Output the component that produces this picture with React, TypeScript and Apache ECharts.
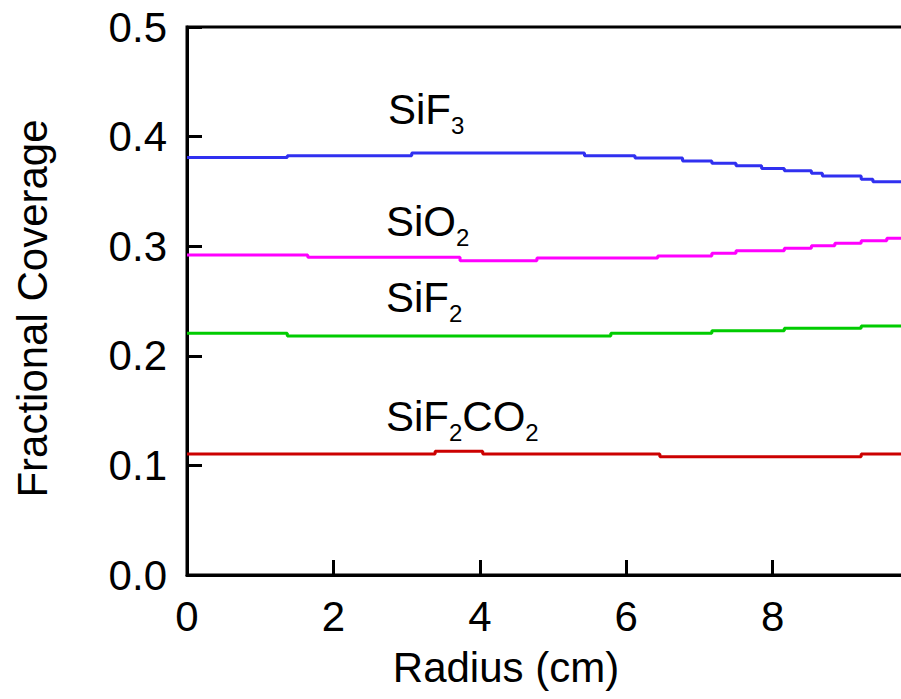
import React, { useEffect, useRef } from "react";
import * as echarts from "echarts";

// Radius (cm) at which each plotted level starts, and the coverage level
const sif3X = [0, 1.37, 3.07, 5.43, 6.12, 6.77, 7.17, 7.5, 7.85, 8.16, 8.53, 8.68, 9.21, 9.37, 9.76];
const sif3Y = [0.381, 0.3825, 0.385, 0.3825, 0.3805, 0.3777, 0.3756, 0.3734, 0.371, 0.3689, 0.3665, 0.364, 0.361, 0.3588, 0.3588];

const sio2X = [0, 1.65, 3.73, 4.78, 6.43, 7.17, 7.5, 8.16, 8.53, 8.85, 9.21, 9.56, 9.76];
const sio2Y = [0.292, 0.29, 0.2868, 0.2893, 0.2911, 0.2935, 0.2959, 0.2981, 0.3005, 0.3026, 0.305, 0.3072, 0.3072];

const sif2X = [0, 1.37, 5.79, 7.17, 8.16, 9.21, 9.76];
const sif2Y = [0.2205, 0.2181, 0.2205, 0.2229, 0.2251, 0.2272, 0.2272];

const sif2co2X = [0, 3.39, 4.04, 6.46, 9.21, 9.76];
const sif2co2Y = [0.1104, 0.1129, 0.1104, 0.1079, 0.1104, 0.1104];

const yTicks = [0, 0.1, 0.2, 0.3, 0.4, 0.5];
const xTickLabels = ["0", "2", "4", "6", "8"];

const FONT = "'Liberation Sans', Arial, Helvetica, sans-serif";
const FS = 42;

const zip = (xs: number[], ys: number[]) => xs.map((x, i) => [x, ys[i]]);

function label(main: string, parts: Array<[string, string]>, left: number, top: number) {
  const text = parts.map(([style, t]) => `{${style}|${t}}`).join("");
  return {
    type: "text",
    left,
    top,
    name: main,
    style: {
      text,
      rich: {
        m: { fontSize: FS, fontFamily: FONT, fill: "#000" },
        s: { fontSize: 24, padding: [32, 0, 0, 0], fontFamily: FONT, fill: "#000" },
      },
    },
  };
}

export default function App() {
  const ref = useRef<HTMLDivElement>(null);
  useEffect(() => {
    if (!ref.current) return;
    const chart = echarts.init(ref.current, undefined, { renderer: "svg" });
    const line = (name: string, xs: number[], ys: number[], color: string) => ({
      name,
      type: "line",
      step: "end",
      data: zip(xs, ys),
      showSymbol: false,
      lineStyle: { color, width: 3 },
      itemStyle: { color },
    });
    chart.setOption({
      animation: false,
      backgroundColor: "#fff",
      grid: {
        left: 187,
        top: 27,
        bottom: 124,
        right: -18,
        outerBoundsMode: "none",
        containLabel: false,
        show: true,
        borderColor: "#000",
        borderWidth: 3,
        backgroundColor: "transparent",
      },
      xAxis: {
        type: "value",
        min: 0,
        max: 10,
        interval: 2,
        name: "Radius (cm)",
        nameLocation: "middle",
        nameGap: 71,
        nameTextStyle: { fontSize: FS, fontFamily: FONT, color: "#000", padding: [0, 94, 0, 0] },
        axisLine: { show: true, lineStyle: { color: "#000", width: 3 } },
        axisTick: { show: true, inside: true, length: 15, lineStyle: { color: "#000", width: 3 } },
        axisLabel: {
          fontSize: FS,
          fontFamily: FONT,
          color: "#000",
          margin: 20,
          showMaxLabel: false,
          formatter: (v: number) => xTickLabels[Math.round(v / 2)] ?? "",
        },
        splitLine: { show: false },
      },
      yAxis: {
        type: "value",
        min: yTicks[0],
        max: yTicks[yTicks.length - 1],
        interval: 0.1,
        name: "Fractional Coverage",
        nameLocation: "middle",
        nameGap: 134,
        nameRotate: 90,
        nameTextStyle: { fontSize: FS, fontFamily: FONT, color: "#000", padding: [0, 15, 0, 0] },
        axisLine: { show: true, lineStyle: { color: "#000", width: 3 } },
        axisTick: { show: true, inside: true, length: 15, lineStyle: { color: "#000", width: 3 } },
        axisLabel: {
          fontSize: FS,
          fontFamily: FONT,
          color: "#000",
          margin: 20,
          formatter: (v: number) => v.toFixed(1),
        },
        splitLine: { show: false },
      },
      graphic: [
        label("SiF3", [["m", "SiF"], ["s", "3"]], 388, 88),
        label("SiO2", [["m", "SiO"], ["s", "2"]], 386, 200),
        label("SiF2", [["m", "SiF"], ["s", "2"]], 386, 276),
        label("SiF2CO2", [["m", "SiF"], ["s", "2"], ["m", "CO"], ["s", "2"]], 386, 395),
      ],
      series: [
        line("SiF3", sif3X, sif3Y, "#3030f0"),
        line("SiO2", sio2X, sio2Y, "#ff00ff"),
        line("SiF2", sif2X, sif2Y, "#00cc00"),
        line("SiF2CO2", sif2co2X, sif2co2Y, "#cc0000"),
      ],
    });
    return () => chart.dispose();
  }, []);
  return (
    <div
      ref={ref}
      style={{ position: "absolute", left: 0, top: 0, width: 901, height: 699, background: "#fff" }}
    />
  );
}
